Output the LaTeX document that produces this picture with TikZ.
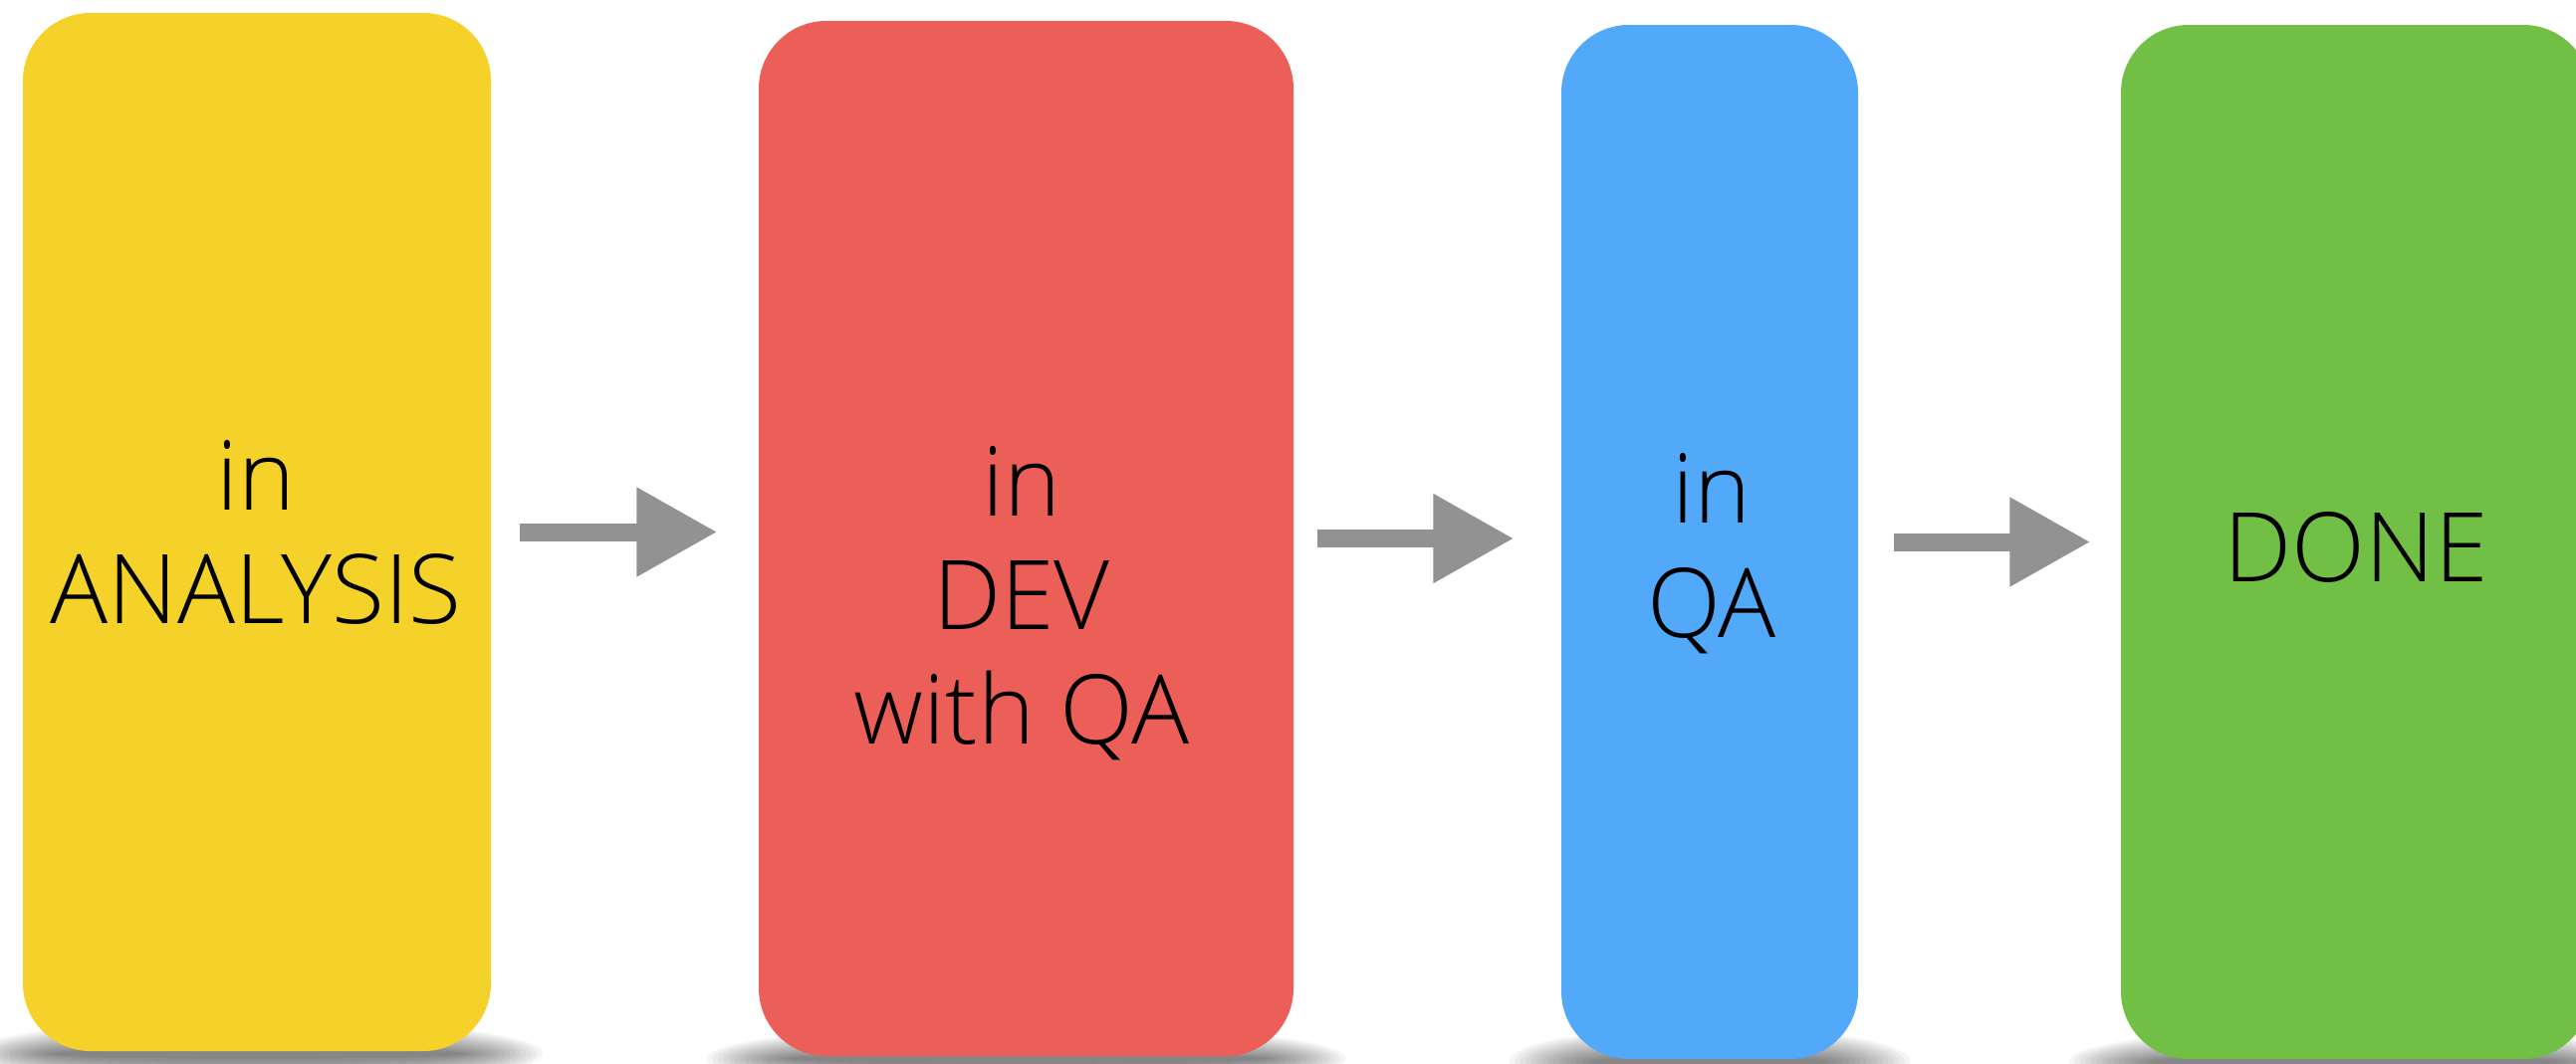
\documentclass[tikz,border=0pt]{standalone}
\usepackage{fontspec}
\setmainfont{Open Sans Light}
\usepackage{tikz}
\usetikzlibrary{arrows.meta,backgrounds}
\definecolor{stageyellow}{RGB}{245,210,42}
\definecolor{stagered}{RGB}{236,95,88}
\definecolor{stageblue}{RGB}{82,168,249}
\definecolor{stagegreen}{RGB}{113,191,68}
\definecolor{arrowgray}{RGB}{146,146,146}
\tikzstyle{stage} = [rectangle, rounded corners=0.68cm, draw=none, inner sep=0pt]
\tikzstyle{stagetext} = [align=center, inner sep=0pt, font=\fontsize{27.5}{32.6}\selectfont]
\tikzstyle{arrow} = [line width=0.18cm, draw=arrowgray, -{Triangle[length=0.81cm, width=0.85cm]}]
\tikzstyle{stageshadow} = [fill=black, opacity=0.04]

\begin{document}
\begin{tikzpicture}

    \useasboundingbox (0,0) rectangle (25.87,-10.68);

    \node (analysis) [stage, fill=stageyellow, minimum width=4.70cm, minimum height=10.43cm] at (2.58,-5.345) {};
    \node (dev) [stage, fill=stagered, minimum width=5.37cm, minimum height=10.40cm] at (10.305,-5.41) {};
    \node (qa) [stage, fill=stageblue, minimum width=2.98cm, minimum height=10.39cm] at (17.17,-5.445) {};
    \node (done) [stage, fill=stagegreen, minimum width=4.72cm, minimum height=10.39cm] at (23.66,-5.445) {};

    % soft shadow under each column
    \begin{scope}[on background layer]
    \foreach \stage/\w in {analysis/4.70, dev/5.37, qa/2.98, done/4.72}
        \foreach \i in {0,...,15}
            \fill[stageshadow] ([yshift=-0.02cm]\stage.south) ellipse [x radius=\w/2*1cm-0.3cm+\i*0.055cm, y radius=0.05cm+\i*0.02cm];
    \end{scope}

    \node (analysis_text) [stagetext] at (2.57,-5.35) {in\\ANALYSIS};
    \node (dev_text) [stagetext] at (10.26,-6.06) {in\\DEV\\with QA};
    \node (qa_text) [stagetext] at (17.19,-5.56) {in\\QA};
    \node (done_text) [stagetext] at (23.66,-5.50) {DONE};

    % arrow ends, just short of each box
    \coordinate (dev_in) at ([xshift=-0.41cm]dev.west);
    \coordinate (qa_in) at ([xshift=-0.47cm]qa.west);
    \coordinate (done_in) at ([xshift=-0.30cm]done.west);

    \draw[arrow] ([xshift=0.28cm]analysis.east) -- (dev_in |- analysis.east);
    \draw[arrow] ([xshift=0.23cm]dev.east) -- (qa_in |- dev.east);
    \draw[arrow] ([xshift=0.35cm]qa.east) -- (done_in |- qa.east);

\end{tikzpicture}
\end{document}
